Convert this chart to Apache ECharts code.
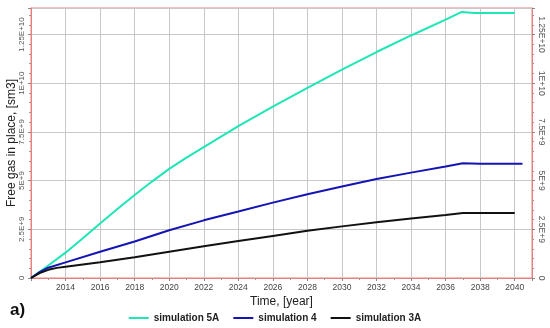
<!DOCTYPE html>
<html>
<head>
<meta charset="utf-8">
<style>html,body{margin:0;padding:0;background:#fff}#c{width:550px;height:328px}</style>
<script src="https://cdn.jsdelivr.net/npm/echarts@6/dist/echarts.min.js"></script>
</head>
<body>
<div id="c"></div>
<script>
// values in units of 1e9 sm3
const UNIT = 1e9;
const years5A = [2012, 2013, 2014, 2015, 2016, 2017, 2018, 2019, 2020, 2021, 2022, 2024, 2026, 2028, 2030, 2032, 2034, 2036, 2036.9, 2037.7, 2040];
const sim5A  = [0, 0.64, 1.3, 2.04, 2.8, 3.54, 4.26, 4.95, 5.6, 6.18, 6.72, 7.8, 8.8, 9.76, 10.7, 11.6, 12.45, 13.26, 13.65, 13.6, 13.6];
const years4 = [2012, 2012.5, 2013, 2014, 2016, 2018, 2020, 2022, 2024, 2026, 2028, 2030, 2032, 2034, 2036, 2037, 2038, 2040.45];
const sim4   = [0, 0.3, 0.53, 0.8, 1.35, 1.87, 2.45, 2.96, 3.41, 3.87, 4.3, 4.7, 5.08, 5.41, 5.72, 5.89, 5.87, 5.87];
const years3A = [2012, 2012.5, 2013, 2013.5, 2014, 2016, 2018, 2020, 2022, 2024, 2026, 2028, 2030, 2032, 2034, 2036, 2037, 2040];
const sim3A   = [0, 0.25, 0.42, 0.52, 0.58, 0.81, 1.06, 1.35, 1.63, 1.90, 2.16, 2.42, 2.65, 2.86, 3.06, 3.24, 3.34, 3.34];
const seriesNames = ['simulation 5A', 'simulation 4', 'simulation 3A'];
const yTickLabels = ['0', '2.5E+9', '5E+9', '7.5E+9', '1E+10', '1.25E+10'];
const xTickLabels = ['2014','2016','2018','2020','2022','2024','2026','2028','2030','2032','2034','2036','2038','2040'];

const pairs = (xs, vs) => xs.map((x, i) => [x, vs[i] * UNIT]);
const YINT = 2.5e9;
const yFmt = v => { const i = Math.round(v / YINT); return Math.abs(v - i * YINT) < 1 ? (yTickLabels[i] || '') : ''; };
const xFmt = v => xTickLabels.indexOf(String(v)) >= 0 ? String(v) : '';
const red = '#e88080';
const font = 'Liberation Sans, Arial, sans-serif';

const chart = echarts.init(document.getElementById('c'), null, {renderer: 'canvas'});
const yCommon = {
  type: 'value', min: 0, max: 13.86e9, interval: YINT,
  axisLine: {show: true, lineStyle: {color: red, width: 1}},
  axisTick: {show: true, length: 3, lineStyle: {color: '#888'}},
  minorTick: {show: true, splitNumber: 5, length: 2, lineStyle: {color: '#999'}},
  showMaxLabel: false
};
chart.setOption({
  animation: false,
  textStyle: {fontFamily: font},
  grid: {left: 31, right: 18, top: 8, bottom: 50, outerBoundsMode: 'none', containLabel: false, show: true, borderColor: red, borderWidth: 1, backgroundColor: 'transparent'},
  legend: {
    data: seriesNames, bottom: 0, left: 'center', itemWidth: 20, itemHeight: 2, itemGap: 14,
    icon: 'rect',
    textStyle: {fontSize: 10, fontWeight: 'bold', color: '#222', fontFamily: font}
  },
  xAxis: {
    type: 'value', min: 2012, max: 2041, interval: 2,
    name: 'Time, [year]', nameLocation: 'middle', nameGap: 18, nameMoveOverlap: false,
    nameTextStyle: {fontSize: 12, color: '#222', fontFamily: font},
    axisLine: {show: true, lineStyle: {color: red, width: 1}},
    axisTick: {show: true, length: 3, lineStyle: {color: '#888'}},
    minorTick: {show: true, splitNumber: 2, length: 2, lineStyle: {color: '#999'}},
    splitLine: {show: true, lineStyle: {color: '#c8c8c8', width: 1}},
    axisLabel: {fontSize: 8.5, color: '#444', margin: 5, formatter: xFmt, showMinLabel: false, showMaxLabel: false}
  },
  yAxis: [
    Object.assign({}, yCommon, {
      position: 'left',
      name: 'Free gas in place, [sm3]', nameLocation: 'middle', nameGap: 13, nameRotate: 90, nameMoveOverlap: false,
      nameTextStyle: {fontSize: 12, color: '#222', fontFamily: font},
      splitLine: {show: true, lineStyle: {color: '#c8c8c8', width: 1}},
      axisLabel: {fontSize: 8, color: '#555', rotate: 90, margin: 5, formatter: yFmt}
    }),
    Object.assign({}, yCommon, {
      position: 'right',
      splitLine: {show: false},
      axisLabel: {fontSize: 8.5, color: '#555', rotate: -90, margin: 5, formatter: yFmt}
    })
  ],
  series: [
    {name: seriesNames[0], type: 'line', data: pairs(years5A, sim5A), symbol: 'none', color: '#1ee6b4', lineStyle: {width: 2, color: '#1ee6b4'}},
    {name: seriesNames[1], type: 'line', data: pairs(years4, sim4), symbol: 'none', color: '#1414b4', lineStyle: {width: 2, color: '#1414b4'}},
    {name: seriesNames[2], type: 'line', data: pairs(years3A, sim3A), symbol: 'none', color: '#111111', lineStyle: {width: 2, color: '#111111'}}
  ],
  graphic: [{type: 'text', left: 10, top: 302, style: {text: 'a)', fontSize: 17, fontWeight: 'bold', fill: '#111', fontFamily: font}}]
});
</script>
</body>
</html>
